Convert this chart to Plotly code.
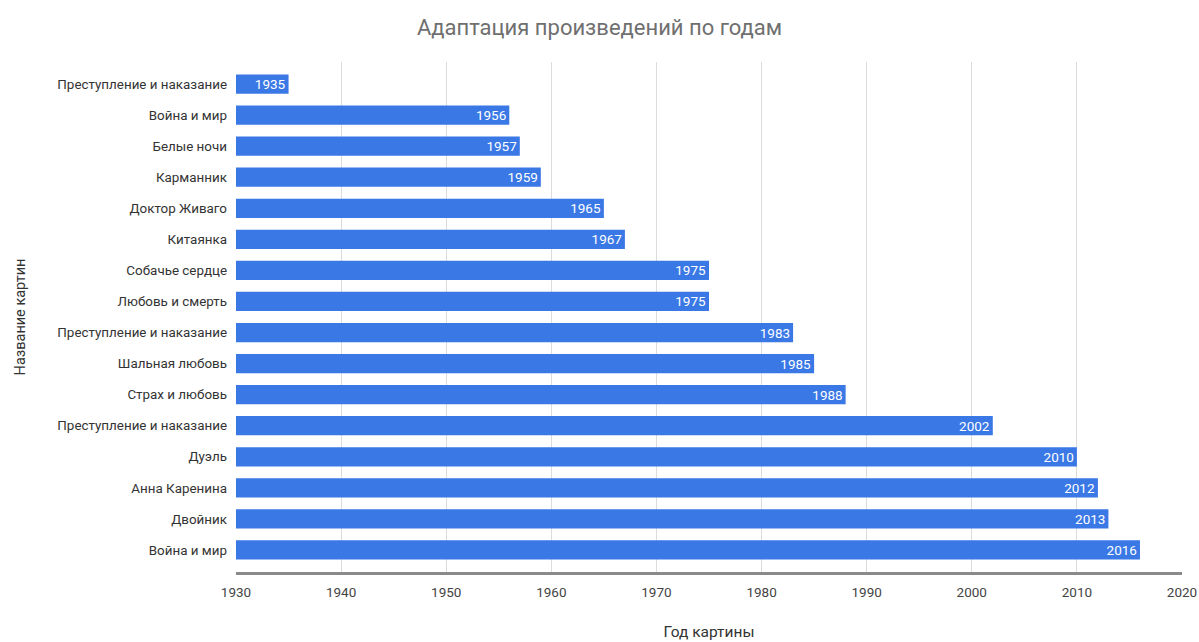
import plotly.graph_objects as go

# Film adaptations and their release years (top to bottom)
titles = [
    "Преступление и наказание",
    "Война и мир",
    "Белые ночи",
    "Карманник",
    "Доктор Живаго",
    "Китаянка",
    "Собачье сердце",
    "Любовь и смерть",
    "Преступление и наказание",
    "Шальная любовь",
    "Страх и любовь",
    "Преступление и наказание",
    "Дуэль",
    "Анна Каренина",
    "Двойник",
    "Война и мир",
]
years = [1935, 1956, 1957, 1959, 1965, 1967, 1975, 1975,
         1983, 1985, 1988, 2002, 2010, 2012, 2013, 2016]
year_ticks = list(range(1930, 2021, 10))

BASE_YEAR = 1930
positions = list(range(len(titles)))

fig = go.Figure(
    go.Bar(
        orientation="h",
        y=positions,
        x=[y - BASE_YEAR for y in years],
        base=BASE_YEAR,
        width=0.62,
        marker=dict(color="#3a78e6", line=dict(width=0)),
        text=[str(y) for y in years],
        textposition="inside",
        insidetextanchor="end",
        textfont=dict(color="white", size=13.5, family="Roboto"),
        constraintext="none",
        cliponaxis=False,
    )
)

fig.update_layout(
    width=1199,
    height=642,
    paper_bgcolor="white",
    plot_bgcolor="white",
    margin=dict(l=236, r=17, t=62, b=70),
    showlegend=False,
    font=dict(family="Roboto", color="#444444"),
    title=dict(
        text="Адаптация произведений по годам",
        x=0.5,
        xanchor="center",
        y=0.957,
        yanchor="middle",
        font=dict(size=22, color="#6f6f6f", family="Roboto"),
    ),
    bargap=0.38,
)

fig.update_xaxes(
    range=[BASE_YEAR, 2020],
    tickvals=year_ticks,
    ticktext=[str(t) for t in year_ticks],
    showgrid=True,
    gridcolor="#dcdcdc",
    gridwidth=1,
    zeroline=False,
    showline=True,
    linecolor="#8a8a8a",
    linewidth=3,
    ticks="",
    ticklabelstandoff=6,
    tickfont=dict(size=13.5, color="#444444"),
    title=dict(text="Год картины", standoff=27,
               font=dict(size=15.5, color="#333333")),
    automargin=False,
)

fig.update_yaxes(
    range=[15.71, -0.71],
    tickvals=positions,
    ticktext=titles,
    showgrid=False,
    zeroline=False,
    showline=False,
    ticks="",
    ticklabelstandoff=8,
    tickfont=dict(size=13.4, color="#333333"),
    title=dict(text="Название картин", standoff=28,
               font=dict(size=14.5, color="#333333")),
    automargin=False,
)

fig.write_html("out.html")
